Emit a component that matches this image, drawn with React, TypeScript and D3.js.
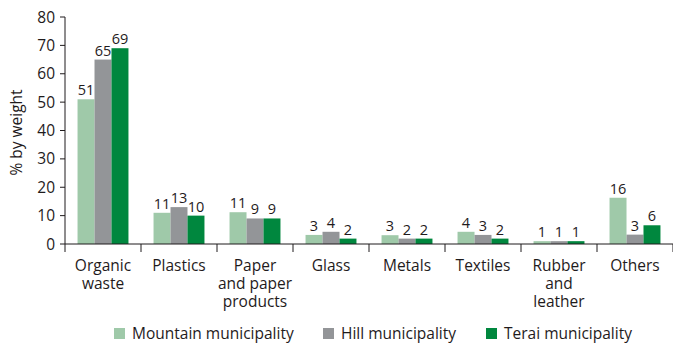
import React from "react";
import * as d3 from "d3";

const categories: string[][] = [
  ["Organic", "waste"],
  ["Plastics"],
  ["Paper", "and paper", "products"],
  ["Glass"],
  ["Metals"],
  ["Textiles"],
  ["Rubber", "and", "leather"],
  ["Others"],
];
const seriesNames = ["Mountain municipality", "Hill municipality", "Terai municipality"];
const mountain = [51, 11, 11.2, 3.2, 3.1, 4.3, 1, 16.3];
const hill = [65, 13, 9, 4.3, 1.9, 3.2, 1, 3.3];
const terai = [69, 10, 9, 1.9, 1.9, 1.9, 1, 6.6];
const mountainLabels = ["51", "11", "11", "3", "3", "4", "1", "16"];
const hillLabels = ["65", "13", "9", "4", "2", "3", "1", "3"];
const teraiLabels = ["69", "10", "9", "2", "2", "2", "1", "6"];
const yTicks = [0, 10, 20, 30, 40, 50, 60, 70, 80];
const colors = ["#9fc9a9", "#939598", "#00873e"];

const W = 673;
const H = 343;
const FONT = "'Open Sans', sans-serif";
const TEXT = "#1f1b1c";

export default function App() {
  const keys = categories.map((c) => c.join(" "));
  const x0 = d3.scaleBand<string>().domain(keys).range([65, 673]).paddingInner(0.33).paddingOuter(0.165);
  const x1 = d3.scaleBand<number>().domain([0, 1, 2]).range([0, x0.bandwidth()]);
  const y = d3.scaleLinear().domain([0, 80]).range([244, 17]);
  const series = [mountain, hill, terai];
  const labels = [mountainLabels, hillLabels, teraiLabels];
  const step = x0.step();
  const boundaries = d3.range(categories.length + 1).map((i) => 65 + i * step);

  const legendX = [114, 323, 486];

  return (
    <svg width={W} height={H} style={{ position: "absolute", left: 0, top: 0, background: "#fff" }} fontFamily={FONT}>
      {/* bars */}
      {keys.map((k, ci) => (
        <g key={k} transform={`translate(${x0(k)},0)`}>
          {series.map((s, si) => (
            <g key={si}>
              <rect x={x1(si)} y={y(s[ci])} width={x1.bandwidth()} height={y(0) - y(s[ci])} fill={colors[si]} />
              <text
                x={(x1(si) as number) + x1.bandwidth() / 2}
                y={y(s[ci]) - 4}
                textAnchor="middle"
                fontSize={14.5}
                fill={TEXT}
              >
                {labels[si][ci]}
              </text>
            </g>
          ))}
        </g>
      ))}
      {/* y axis */}
      <line x1={65} x2={65} y1={y(80)} y2={y(0)} stroke={TEXT} strokeWidth={1} />
      {yTicks.map((t) => (
        <g key={t}>
          <line x1={60} x2={65} y1={y(t)} y2={y(t)} stroke={TEXT} strokeWidth={1} />
          <text x={55} y={y(t)} dy="0.36em" textAnchor="end" fontSize={15.5} fill={TEXT}>
            {t}
          </text>
        </g>
      ))}
      <text transform={`translate(22,${(y(0) + y(80)) / 2 + 2}) rotate(-90)`} textAnchor="middle" fontSize={15.5} fill={TEXT}>
        % by weight
      </text>
      {/* x axis */}
      <line x1={65} x2={673} y1={y(0)} y2={y(0)} stroke={TEXT} strokeWidth={1} />
      {boundaries.map((b, i) => (
        <line key={i} x1={b} x2={b} y1={y(0)} y2={y(0) + 8} stroke={TEXT} strokeWidth={1} />
      ))}
      {categories.map((lines, ci) => (
        <text key={ci} x={(x0(keys[ci]) as number) + x0.bandwidth() / 2} y={271} textAnchor="middle" fontSize={15.5} fill={TEXT}>
          {lines.map((l, li) => (
            <tspan key={li} x={(x0(keys[ci]) as number) + x0.bandwidth() / 2} dy={li === 0 ? 0 : 18}>
              {l}
            </tspan>
          ))}
        </text>
      ))}
      {/* legend */}
      {seriesNames.map((n, i) => (
        <g key={n}>
          <rect x={legendX[i]} y={328} width={11} height={11} fill={colors[i]} />
          <text x={legendX[i] + 18} y={339} fontSize={15.5} fill={TEXT}>
            {n}
          </text>
        </g>
      ))}
    </svg>
  );
}
